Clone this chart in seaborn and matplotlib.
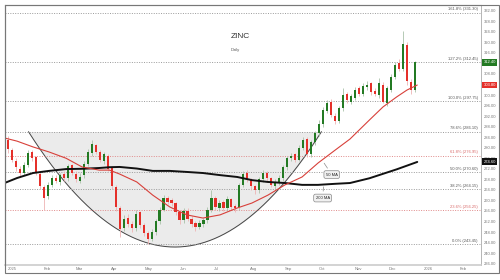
import numpy as np
import pandas as pd
import matplotlib
matplotlib.use("Agg")
import matplotlib.pyplot as plt
import matplotlib.dates as mdates
import matplotlib.transforms as mtransforms
from matplotlib.patches import Rectangle
import seaborn as sns

# ---------------- data ----------------
candle_dates = pd.date_range("2025-01-01", periods=103, freq="84h")

opens = [283.0, 279.0, 275.0, 272.0, 270.5, 273.5, 278.5, 276.5, 270.0, 265.0,
         261.5, 266.0, 268.5, 267.0, 270.0, 268.5, 273.5, 270.0, 267.5, 269.5,
         274.0, 278.0, 281.0, 278.5, 275.0, 277.0, 272.5, 265.0, 257.0, 249.5,
         253.5, 251.0, 249.5, 255.5, 250.5, 247.5, 245.5, 248.0, 252.0, 256.5,
         261.0, 260.0, 259.0, 255.5, 252.5, 256.0, 253.0, 251.5, 250.0, 251.0,
         252.5, 256.5, 261.0, 257.0, 259.5, 257.0, 260.5, 258.0, 257.5, 266.0,
         270.5, 268.0, 265.5, 264.0, 268.0, 270.5, 268.5, 265.5, 267.0, 268.5,
         272.5, 276.0, 277.5, 275.5, 280.0, 283.5, 277.5, 282.0, 285.5, 289.0,
         294.0, 297.5, 292.0, 290.0, 295.0, 300.5, 297.5, 299.0, 302.5, 300.5,
         303.0, 304.5, 301.5, 300.0, 304.0, 297.0, 302.0, 307.0, 312.0, 310.0,
         319.0, 305.0, 302.0]
closes = [279.5, 275.5, 272.5, 270.5, 273.5, 278.0, 276.0, 270.5, 265.5, 261.0,
          266.0, 268.5, 267.5, 269.5, 268.5, 273.0, 270.5, 268.0, 269.0, 274.0,
          278.5, 281.5, 278.5, 275.5, 277.5, 272.0, 265.5, 257.5, 249.0, 253.0,
          251.0, 249.5, 255.0, 250.5, 247.5, 245.5, 248.0, 252.0, 256.5, 261.0,
          259.5, 259.0, 255.5, 252.5, 256.0, 253.0, 251.0, 250.0, 251.5, 252.5,
          256.5, 261.0, 257.5, 259.0, 257.0, 260.5, 257.5, 257.0, 266.0, 270.0,
          268.0, 265.5, 264.0, 268.0, 270.5, 268.5, 266.0, 267.0, 268.5, 272.5,
          276.0, 277.0, 275.5, 280.0, 283.0, 277.5, 282.0, 285.5, 289.0, 294.5,
          297.0, 292.5, 290.0, 295.0, 300.0, 298.0, 299.5, 302.0, 300.5, 303.5,
          304.0, 301.0, 300.5, 304.5, 297.5, 302.5, 307.0, 311.5, 310.0, 319.5,
          305.5, 302.0, 312.4]
highs = [284.5, 280.0, 276.0, 273.0, 274.5, 279.0, 279.0, 277.0, 271.0, 266.0,
         267.0, 269.5, 269.5, 270.5, 271.0, 274.0, 274.0, 271.0, 270.5, 275.0,
         279.5, 283.0, 281.5, 279.0, 278.5, 277.5, 273.0, 266.0, 258.0, 254.5,
         255.0, 252.0, 256.5, 256.0, 251.5, 248.5, 249.0, 253.0, 257.5, 262.0,
         261.5, 261.0, 259.5, 256.0, 257.0, 257.0, 254.0, 252.0, 252.5, 253.5,
         257.5, 264.0, 261.5, 260.0, 260.0, 261.5, 261.0, 258.5, 266.5, 271.0,
         271.5, 268.5, 266.0, 269.0, 271.5, 271.0, 269.0, 268.0, 269.5, 273.5,
         277.0, 278.0, 278.0, 281.0, 284.0, 284.0, 283.0, 286.5, 290.5, 295.5,
         298.0, 298.5, 293.0, 296.0, 302.5, 301.0, 300.5, 303.0, 303.5, 304.5,
         305.5, 305.0, 302.5, 306.5, 305.0, 303.5, 308.0, 312.5, 313.5, 324.5,
         320.0, 306.0, 313.0]
lows = [278.0, 274.5, 271.0, 269.0, 269.5, 272.5, 275.0, 269.5, 264.5, 256.5,
        260.5, 265.0, 266.5, 266.0, 267.5, 267.5, 269.5, 267.0, 266.5, 268.5,
        273.0, 277.0, 277.5, 274.5, 274.0, 271.0, 264.5, 256.0, 246.0, 248.5,
        250.0, 248.0, 248.5, 249.5, 246.5, 243.5, 244.5, 247.0, 251.0, 256.0,
        258.5, 258.0, 254.5, 251.0, 251.5, 252.0, 250.0, 248.5, 249.0, 250.0,
        251.5, 255.5, 256.5, 256.0, 256.0, 256.0, 256.5, 255.5, 256.5, 265.0,
        267.0, 264.0, 262.5, 263.0, 267.0, 267.5, 265.0, 264.5, 266.0, 267.5,
        271.5, 275.0, 274.5, 275.0, 279.0, 276.5, 276.5, 281.0, 284.5, 288.0,
        293.0, 291.5, 289.0, 289.5, 294.0, 297.0, 296.5, 298.0, 299.5, 299.5,
        302.0, 300.0, 299.5, 299.0, 297.0, 296.0, 301.0, 306.0, 309.0, 309.0,
        304.0, 300.5, 301.0]

ma_dates = pd.to_datetime([
    "2024-12-29", "2025-01-09", "2025-01-23", "2025-02-06", "2025-02-21",
    "2025-03-07", "2025-03-22", "2025-03-31", "2025-04-09", "2025-04-24",
    "2025-05-08", "2025-05-23", "2025-06-07", "2025-06-21", "2025-07-06",
    "2025-07-21", "2025-08-03", "2025-08-17", "2025-09-01", "2025-09-16",
    "2025-09-30", "2025-10-15", "2025-10-28", "2025-11-14", "2025-11-26",
    "2025-12-08", "2025-12-17", "2025-12-26"])
ma50 = [283.7, 282.5, 280.3, 278.4, 276.0, 272.7, 271.5, 271.5, 270.0, 267.0,
        262.0, 257.5, 254.5, 253.3, 254.5, 257.1, 259.0, 262.0, 265.9, 268.9,
        274.2, 279.1, 283.3, 290.5, 295.5, 299.3, 301.9, 303.8]
ma200 = [266.6, 268.5, 270.4, 271.2, 271.9, 272.0, 272.3, 272.6, 272.7, 272.1,
         271.2, 271.2, 270.8, 270.4, 269.6, 268.9, 267.7, 267.0, 266.6, 265.9,
         265.9, 266.3, 266.6, 268.4, 270.1, 271.8, 273.2, 274.6]

fib_pct = [0.0, 23.6, 38.2, 50.0, 61.8, 78.6, 100.0, 127.2, 161.8]
fib_val = [243.45, 256.25, 264.15, 270.60, 276.95, 286.10, 297.75, 312.45, 331.30]
fib_red = [23.6, 61.8]

cup_start, cup_end = "2025-01-19", "2025-10-03"
cup_rim, cup_bottom = 286.10, 242.3

last_price = 312.40
month_ticks = pd.date_range("2025-01-01", "2026-02-01", freq="MS")
month_labels = ["2025", "Feb", "Mar", "Apr", "May", "Jun", "Jul", "Aug",
                "Sep", "Oct", "Nov", "Dec", "2026", "Feb"]

# ---------------- style ----------------
sns.set_theme(style="white")
plt.rcParams["font.family"] = ["Liberation Sans", "DejaVu Sans"]

fig = plt.figure(figsize=(5, 2.8), dpi=100)
ax = fig.add_axes([0.01, 0.0536, 0.952, 0.9286])

GREEN = "#237a23"
RED = "#e5302a"

# cup shading + curve
t0 = mdates.date2num(pd.Timestamp(cup_start))
t1 = mdates.date2num(pd.Timestamp(cup_end))
tt = np.linspace(t0, t1, 300)
mid, half = (t0 + t1) / 2, (t1 - t0) / 2
cup_y = cup_bottom + (cup_rim - cup_bottom) * ((tt - mid) / half) ** 2
ax.fill_between(tt, cup_y, cup_rim, color="#ebebeb", lw=0, zorder=0)
ax.plot(tt, cup_y, color="#444444", lw=0.7, zorder=1)

# fib lines
trans = mtransforms.blended_transform_factory(ax.transAxes, ax.transData)
for p, v in zip(fib_pct, fib_val):
    col = "#e08a8a" if p in fib_red else "#9a9a9a"
    tcol = "#d96a6a" if p in fib_red else "#555555"
    ax.axhline(v, color=col, lw=0.7, ls=(0, (1, 1.5)), zorder=1)
    ax.text(0.993, v + 0.5, f"{p:.1f}% ({v:.2f})", transform=trans,
            ha="right", va="bottom", fontsize=3, color=tcol, zorder=5)

# candles
d = mdates.date2num(candle_dates)
o = np.array(opens); c = np.array(closes)
h = np.array(highs); l = np.array(lows)
up = c >= o
body_col = np.where(up, GREEN, RED)
wick_col = np.where(up, "#a9c2a9", "#eeb3b3")
ax.vlines(d, l, h, colors=wick_col, lw=0.6, zorder=3)
ax.bar(d, np.maximum(np.abs(c - o), 0.3), bottom=np.minimum(o, c),
       width=1.9, color=body_col, lw=0, zorder=4)

# moving averages
ma_df = pd.DataFrame({"date": ma_dates, "ma50": ma50, "ma200": ma200})
sns.lineplot(data=ma_df, x="date", y="ma200", ax=ax, color="#111111", lw=1.4, zorder=6)
sns.lineplot(data=ma_df, x="date", y="ma50", ax=ax, color="#d8403a", lw=0.8, zorder=6)

# callouts
box = dict(boxstyle="round,pad=0.45", fc="#f0f0f0", ec="#8a8a8a", lw=0.5)
ax.annotate("50 MA", xy=(pd.Timestamp("2025-10-04"), 275.0),
            xytext=(pd.Timestamp("2025-10-12"), 269.8), fontsize=3,
            ha="center", va="center", bbox=box, zorder=8,
            arrowprops=dict(arrowstyle="-", color="#8a8a8a", lw=0.5))
ax.annotate("200 MA", xy=(pd.Timestamp("2025-10-05"), 266.2),
            xytext=(pd.Timestamp("2025-10-04"), 260.9), fontsize=3,
            ha="center", va="center", bbox=box, zorder=8,
            arrowprops=dict(arrowstyle="-", color="#8a8a8a", lw=0.5))

# title
ax.text(0.4737, 0.877, "ZINC", transform=ax.transAxes, fontsize=6,
        ha="left", va="center", color="#333333")
ax.text(0.4737, 0.826, "Daily", transform=ax.transAxes, fontsize=3,
        ha="left", va="center", color="#555555")

# axes
ax.set_xlim(mdates.date2num(pd.Timestamp("2024-12-29 10:00")),
            mdates.date2num(pd.Timestamp("2026-02-19 22:00")))
ax.set_ylim(235.48, 334.19)
ax.set_xlabel(""); ax.set_ylabel("")
ax.set_xticks(mdates.date2num(month_ticks))
ax.set_xticklabels(month_labels, ha="left")
ax.yaxis.tick_right()
ax.set_yticks(np.arange(236, 333, 4))
ax.set_yticklabels([f"{v:.2f}" for v in np.arange(236, 333, 4)])
ax.tick_params(axis="both", labelsize=3, colors="#777777", length=0, pad=1.5)
ax.tick_params(axis="y", pad=2)

for s, col, lw in [("left", "#666666", 0.8), ("top", "#999999", 0.8),
                   ("right", "#aaaaaa", 0.6), ("bottom", "#cccccc", 1.2)]:
    ax.spines[s].set_visible(True)
    ax.spines[s].set_color(col)
    ax.spines[s].set_linewidth(lw)

# price boxes on right axis
for val, col in [(last_price, GREEN), (ma50[-1], RED), (ma200[-1], "#111111")]:
    ax.text(1.005, val, f"{val:.2f}", transform=trans, fontsize=3,
            color="white", ha="left", va="center", zorder=10, clip_on=False,
            bbox=dict(boxstyle="square,pad=0.35", fc=col, ec="none"))

fig.patches.append(Rectangle((5 / 500, 1 - 273 / 280), 494 / 500, 268 / 280,
                             transform=fig.transFigure, fill=False,
                             ec="#777777", lw=0.8))

fig.savefig("out.png", dpi=100)
